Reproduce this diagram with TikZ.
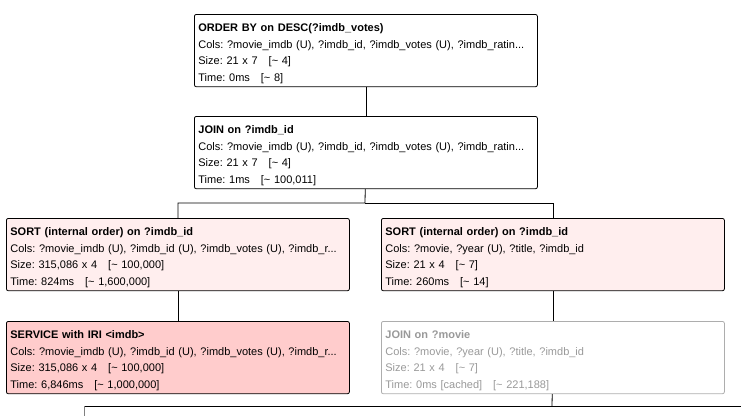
\documentclass[tikz,border=0pt]{standalone}
\usepackage{fontspec}
\setmainfont{Liberation Sans}
\definecolor{sortpink}{HTML}{FFEEEE}
\definecolor{servicered}{HTML}{FFCCCC}
\definecolor{cachedgray}{HTML}{999999}
\newcommand{\firstline}{\rule{0pt}{14pt}}
\tikzset{
    opbox/.style={draw,rectangle,rounded corners=2pt,line width=0.8pt,anchor=north west,
        minimum width=343pt,minimum height=71pt,text width=335pt,align=left,
        inner xsep=3pt,inner ysep=3pt,font=\fontsize{11}{16.7}\selectfont\frenchspacing},
    cached/.style={draw=cachedgray!80,text=cachedgray},
    edge/.style={line width=0.8pt},
}
\begin{document}
\begin{tikzpicture}[x=1pt,y=-1pt]
\useasboundingbox (0,0) rectangle (741,415);
\node[opbox] (orderby) at (194,14) {\firstline\textbf{ORDER BY on DESC(?imdb\_votes)}\\Cols: ?movie\_imdb (U), ?imdb\_id, ?imdb\_votes (U), ?imdb\_ratin...\\Size: 21 x 7\quad[\textasciitilde{} 4]\\Time: 0ms\quad[\textasciitilde{} 8]};
\node[opbox] (join) at (194,116) {\firstline\textbf{JOIN on ?imdb\_id}\\Cols: ?movie\_imdb (U), ?imdb\_id, ?imdb\_votes (U), ?imdb\_ratin...\\Size: 21 x 7\quad[\textasciitilde{} 4]\\Time: 1ms\quad[\textasciitilde{} 100,011]};
\node[opbox,fill=sortpink] (sortl) at (6,218) {\firstline\textbf{SORT (internal order) on ?imdb\_id}\\Cols: ?movie\_imdb (U), ?imdb\_id (U), ?imdb\_votes (U), ?imdb\_r...\\Size: 315,086 x 4\quad[\textasciitilde{} 100,000]\\Time: 824ms\quad[\textasciitilde{} 1,600,000]};
\node[opbox,fill=sortpink] (sortr) at (381,218) {\firstline\textbf{SORT (internal order) on ?imdb\_id}\\Cols: ?movie, ?year (U), ?title, ?imdb\_id\\Size: 21 x 4\quad[\textasciitilde{} 7]\\Time: 260ms\quad[\textasciitilde{} 14]};
\node[opbox,fill=servicered] (service) at (6,321) {\firstline\textbf{SERVICE with IRI <imdb>}\\Cols: ?movie\_imdb (U), ?imdb\_id (U), ?imdb\_votes (U), ?imdb\_r...\\Size: 315,086 x 4\quad[\textasciitilde{} 100,000]\\Time: 6,846ms\quad[\textasciitilde{} 1,000,000]};
\node[opbox,cached] (joinmovie) at (381,321) {\firstline\textbf{JOIN on ?movie}\\Cols: ?movie, ?year (U), ?title, ?imdb\_id\\Size: 21 x 4\quad[\textasciitilde{} 7]\\Time: 0ms [cached]\quad[\textasciitilde{} 221,188]};
% split points
\coordinate (fork) at (365,203);
\coordinate (lowfork) at (552,406);
\coordinate (lowleft) at (84,406);
\coordinate (lowright) at (742,406);
\coordinate (lowdown) at (84,416);
\draw[edge] (orderby) -- (join);
\draw[edge] (join) -- (fork) -| (sortl);
\draw[edge] (fork) -| (sortr);
\draw[edge] (sortl) -- (service);
\draw[edge] (sortr) -- (joinmovie);
\draw[edge] (joinmovie) -- (lowfork);
\draw[edge] (lowleft) -- (lowright);
\draw[edge,draw=gray] (lowleft) -- (lowdown);
\end{tikzpicture}
\end{document}
